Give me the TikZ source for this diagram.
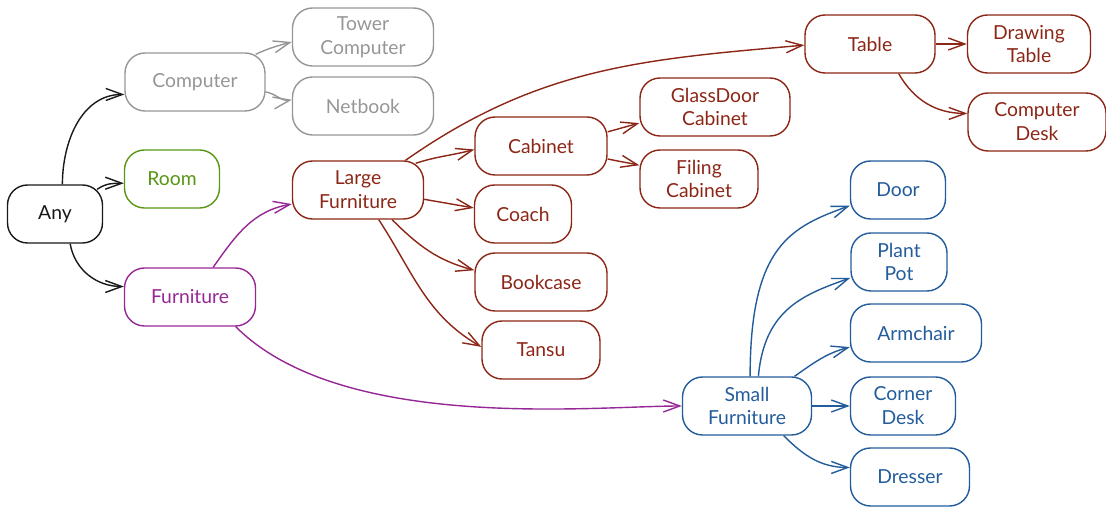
\documentclass[tikz,border=0pt]{standalone}
\usepackage{fontspec}
\setmainfont{Lato}
\usetikzlibrary{arrows.meta}

\definecolor{anyblack}{RGB}{25,25,25}
\definecolor{pcgray}{RGB}{150,150,150}
\definecolor{roomgreen}{RGB}{88,150,20}
\definecolor{furnpurple}{RGB}{150,40,150}
\definecolor{largered}{RGB}{140,38,22}
\definecolor{smallblue}{RGB}{35,92,155}

\tikzstyle{concept}=[draw, rounded corners=0.4cm, minimum height=1.16cm, align=center, line width=0.8pt, font=\fontsize{11}{13.6}\selectfont]
\tikzstyle{isa}=[line width=0.8pt, -{Straight Barb[length=3.3mm,width=2.4mm]}]

\begin{document}
\begin{tikzpicture}[x=0.02cm, y=0.02cm]
    \useasboundingbox (0, 0) rectangle (1106, 507);

    \node[concept, anyblack, minimum width=1.9cm] (any) at (55, 293) {Any};
    \node[concept, pcgray, minimum width=2.8cm] (computer) at (195, 425) {Computer};
    \node[concept, pcgray, minimum width=2.82cm] (tower_computer) at (363, 470) {Tower\\Computer};
    \node[concept, pcgray, minimum width=2.82cm] (netbook) at (363, 401) {Netbook};
    \node[concept, roomgreen, minimum width=1.9cm] (room) at (172, 328) {Room};
    \node[concept, furnpurple, minimum width=2.62cm] (furniture) at (190, 210) {Furniture};

    \node[concept, largered, minimum width=2.62cm] (large_furniture) at (358, 317) {Large\\Furniture};
    \node[concept, largered, minimum width=2.64cm] (cabinet) at (541, 361) {Cabinet};
    \node[concept, largered, minimum width=1.94cm] (coach) at (523, 293) {Coach};
    \node[concept, largered, minimum width=2.64cm] (bookcase) at (541, 225) {Bookcase};
    \node[concept, largered, minimum width=2.36cm] (tansu) at (541, 157) {Tansu};
    \node[concept, largered, minimum width=3.0cm] (glassdoor_cabinet) at (715, 400) {GlassDoor\\Cabinet};
    \node[concept, largered, minimum width=2.36cm] (filing_cabinet) at (699, 328) {Filing\\Cabinet};
    \node[concept, largered, minimum width=2.6cm] (table) at (870, 463) {Table};
    \node[concept, largered, minimum width=2.46cm] (drawing_table) at (1029, 463) {Drawing\\Table};
    \node[concept, largered, minimum width=2.76cm] (computer_desk) at (1037, 385) {Computer\\Desk};

    \node[concept, smallblue, minimum width=2.58cm] (small_furniture) at (747, 101) {Small\\Furniture};
    \node[concept, smallblue, minimum width=1.9cm] (door) at (898, 317) {Door};
    \node[concept, smallblue, minimum width=1.92cm] (plant_pot) at (899, 245) {Plant\\Pot};
    \node[concept, smallblue, minimum width=2.62cm] (armchair) at (916, 174) {Armchair};
    \node[concept, smallblue, minimum width=2.1cm] (corner_desk) at (903, 101) {Corner\\Desk};
    \node[concept, smallblue, minimum width=2.38cm] (dresser) at (910, 30) {Dresser};

    \draw[isa, anyblack] (any.76) to[out=90, in=180] (computer.190);
    \draw[isa, anyblack] ([shift={(-6,-5)}]any.north east) to[out=35, in=180] (room.185);
    \draw[isa, anyblack] (any.297) to[out=-80, in=180] (furniture.171);

    \draw[isa, pcgray] ([shift={(-10,-2)}]computer.north east) to[out=25, in=195] (tower_computer.184);
    \draw[isa, pcgray] (computer.352) to[out=-10, in=190] (netbook.175);

    \draw[isa, furnpurple] (furniture.52) to[out=55, in=190] (large_furniture.192);
    \draw[isa, furnpurple] (furniture.327) to[out=-45, in=180, out looseness=0.85, in looseness=0.5] (small_furniture.west);

    \draw[isa, largered] (large_furniture.32) to[out=35, in=185] (table.181);
    \draw[isa, largered] ([shift={(-8.5,-3)}]large_furniture.north east) to[out=18, in=195] (cabinet.183);
    \draw[isa, largered] (large_furniture.352) to[out=-10, in=170] (coach.173);
    \draw[isa, largered] (large_furniture.319) to[out=-45, in=165] (bookcase.170);
    \draw[isa, largered] (large_furniture.305) to[out=-57, in=150] (tansu.177);
    \draw[isa, largered] (cabinet.12) to[out=15, in=195] (glassdoor_cabinet.192);
    \draw[isa, largered] (cabinet.349) to[out=-12, in=168] (filing_cabinet.167);
    \draw[isa, largered] (table.east) to (drawing_table.west);
    \draw[isa, largered] (table.314) to[out=-60, in=180] (computer_desk.173);

    \draw[isa, smallblue] (small_furniture.84) to[out=90, in=200, out looseness=1.7, in looseness=0.8] (door.198);
    \draw[isa, smallblue] (small_furniture.69) to[out=85, in=200, out looseness=1.3, in looseness=0.9] (plant_pot.198);
    \draw[isa, smallblue] (small_furniture.32) to[out=35, in=195] (armchair.192);
    \draw[isa, smallblue] (small_furniture.east) to (corner_desk.west);
    \draw[isa, smallblue] (small_furniture.321) to[out=-45, in=180] (dresser.171);
  \end{tikzpicture}
\end{document}
